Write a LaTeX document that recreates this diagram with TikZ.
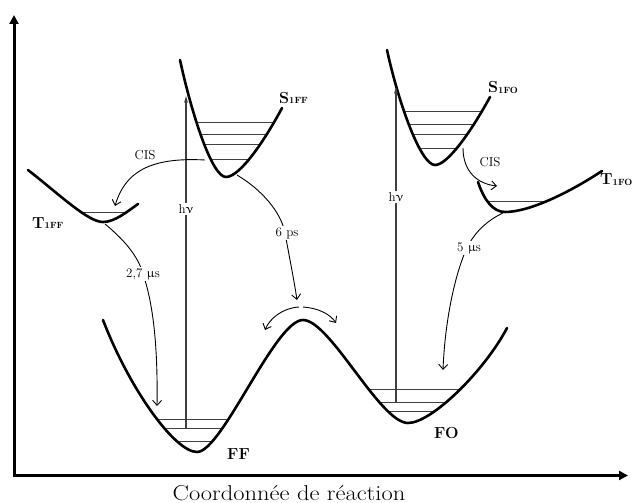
\documentclass[tikz,border=0pt]{standalone}
\usepackage{upgreek}
\usetikzlibrary{arrows.meta}
\begin{document}
\begin{tikzpicture}[x=1pt,y=-1pt,
  curve/.style={line width=2.6pt, line cap=round, line join=round},
  level/.style={line width=1pt, black!75},
  trans/.style={line width=0.9pt, -{Straight Barb[length=5pt,width=9pt]}},
  photon/.style={line width=1.2pt, black!75, -{Stealth[length=7pt,width=4pt]}},
  lbl/.style={fill=white, inner sep=1.5pt, font=\fontsize{13}{15}\selectfont},
  state/.style={font=\fontsize{16}{18}\selectfont\bfseries, inner sep=0pt},
  axis/.style={line width=3pt, {Triangle[length=9pt,width=9pt]}-{Triangle[length=9pt,width=9pt]}}
]
\useasboundingbox (0,0) rectangle (633,503);
\newcommand{\subsc}[1]{{\fontsize{9}{10}\selectfont\raisebox{-1pt}{#1}}}

% axes
\coordinate (ytop) at (14,15);
\coordinate (origin) at (14,475.5);
\coordinate (xend) at (628,475.5);
\draw[axis] (ytop) -- (origin) -- (xend);
\node[font=\fontsize{21.5}{24}\selectfont, anchor=base, inner sep=0pt] (xlabel) at (289,500) {\scalebox{1.14}[1]{Coordonnée de réaction}};

% vibrational levels
\begin{scope}
\clip (180,60) .. controls (192,115) and (212,177) .. (226,177) .. controls (240,177) and (265,140) .. (282,108) -- cycle;
\foreach \y in {123,135,145,160} \draw[level] (150,\y) -- (300,\y);
\end{scope}
\begin{scope}
\clip (387,50) .. controls (399,105) and (421,165) .. (435,165) .. controls (448,165) and (472,130) .. (490,97) -- cycle;
\foreach \y in {112,125,135,149} \draw[level] (370,\y) -- (500,\y);
\end{scope}
\begin{scope}
\clip (28,170) .. controls (60,195) and (88,222) .. (103,222) .. controls (115,222) and (128,211) .. (138,204) -- cycle;
\draw[level] (40,212) -- (140,212);
\end{scope}
\begin{scope}
\clip (478,182) .. controls (484,200) and (493,212) .. (505,212) .. controls (530,212) and (570,192) .. (602,171) -- cycle;
\draw[level] (470,201) -- (600,201);
\end{scope}
\begin{scope}
\clip (103,320) .. controls (130,390) and (175,452) .. (197,452) .. controls (222,452) and (275,320) .. (303,320) .. controls (330,320) and (380,423) .. (408,423) .. controls (432,423) and (485,370) .. (507,328) -- cycle;
\foreach \y in {419,428,441} \draw[level] (130,\y) -- (260,\y);
\foreach \y in {389,402,411} \draw[level] (340,\y) -- (490,\y);
\end{scope}

% potential curves
\draw[curve] (180,60) .. controls (192,115) and (212,177) .. (226,177) .. controls (240,177) and (265,140) .. (282,108);
\draw[curve] (387,50) .. controls (399,105) and (421,165) .. (435,165) .. controls (448,165) and (472,130) .. (490,97);
\draw[curve] (28,170) .. controls (60,195) and (88,222) .. (103,222) .. controls (115,222) and (128,211) .. (138,204);
\draw[curve] (478,182) .. controls (484,200) and (493,212) .. (505,212) .. controls (530,212) and (570,192) .. (602,171);
\draw[curve] (103,320) .. controls (130,390) and (175,452) .. (197,452) .. controls (222,452) and (275,320) .. (303,320) .. controls (330,320) and (380,423) .. (408,423) .. controls (432,423) and (485,370) .. (507,328);

% photon absorption
\coordinate (hvffb) at (186,428);
\coordinate (hvfft) at (186,96);
\draw[photon] (hvffb) -- (hvfft);
\coordinate (hvfob) at (396,402);
\coordinate (hvfot) at (396,87);
\draw[photon] (hvfob) -- (hvfot);

% transitions
\coordinate (cisffs) at (205,160);
\coordinate (cisffe) at (115,206);
\draw[trans] (cisffs) .. controls (150,157) and (125,172) .. (cisffe);
\coordinate (cisfos) at (463,148);
\coordinate (cisfoe) at (497,186);
\draw[trans] (cisfos) .. controls (463,172) and (478,184) .. (cisfoe);

\coordinate (ps6s) at (237,175);
\coordinate (ps6m) at (285,233);
\coordinate (ps6e) at (297,300);
\draw[trans] (ps6s) .. controls (262,190) and (281,212) .. (ps6m) .. controls (289,255) and (294,280) .. (ps6e);

\coordinate (us27s) at (105,224);
\coordinate (us27m) at (143,274);
\coordinate (us27e) at (157,406);
\draw[trans] (us27s) .. controls (122,238) and (138,255) .. (us27m) .. controls (152,300) and (158,340) .. (us27e);

\coordinate (us5s) at (503,213);
\coordinate (us5m) at (466,250);
\coordinate (us5e) at (443,370);
\draw[trans] (us5s) .. controls (488,220) and (474,232) .. (us5m) .. controls (455,275) and (445,320) .. (us5e);

\coordinate (barl) at (299,307);
\coordinate (barr) at (303,307);
\coordinate (barle) at (265,330);
\coordinate (barre) at (336,323);
\draw[trans] (barl) .. controls (283,308) and (270,318) .. (barle);
\draw[trans] (barr) .. controls (318,308) and (330,314) .. (barre);

% labels
\node[lbl] (hvff) at (186,209) {h$\upnu$};
\node[lbl] (hvfo) at (396,197) {h$\upnu$};
\node[lbl, fill=none] (cisff) at (145,155) {CIS};
\node[lbl, fill=none] (cisfo) at (490,162) {CIS};
\node[lbl] (ps6) at (287,233) {6 ps};
\node[lbl] (us27) at (143,274) {2,7 $\upmu$s};
\node[lbl] (us5) at (469,248) {5 $\upmu$s};

\node[state, anchor=base west] (s1ff) at (279,103) {S\subsc{1FF}};
\node[state, anchor=base west] (s1fo) at (488,93) {S\subsc{1FO}};
\node[state, anchor=base west] (t1ff) at (32,228) {T\subsc{1FF}};
\node[state, anchor=base west] (t1fo) at (600,185) {T\subsc{1FO}};
\node[state, anchor=base west] (ff) at (227,459) {FF};
\node[state, anchor=base west] (fo) at (434,438) {FO};
\end{tikzpicture}
\end{document}
